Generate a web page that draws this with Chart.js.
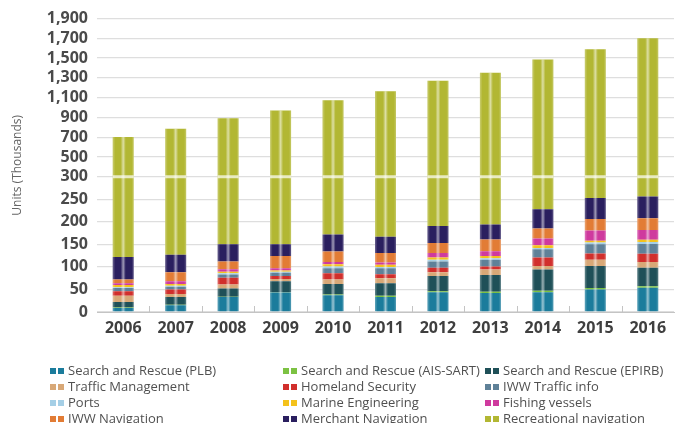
<!DOCTYPE html>
<html>
<head>
<meta charset="utf-8">
<script src="https://cdn.jsdelivr.net/npm/chart.js@4.4.1/dist/chart.umd.min.js"></script>
<style>
  html, body { margin: 0; padding: 0; background: #fff; overflow: hidden; }
  #wrap { position: relative; width: 675px; height: 423px; }
  #legend { position: absolute; left: 0; top: 0; width: 675px; height: 423px; pointer-events: none; }
  .item { position: absolute; height: 18px; line-height: 18px; white-space: nowrap;
          font-family: "Open Sans", sans-serif; font-size: 13px; color: #505050; }
  .sw { display: inline-block; width: 6px; height: 6px; margin-right: 2px; vertical-align: 1px; }
  .sw.last { margin-right: 4px; }
</style>
</head>
<body>
<div id="wrap">
  <canvas id="chart"></canvas>
  <div id="legend"></div>
</div>
<script>
// data (thousand units), bottom of the stack first
var years = ['2006', '2007', '2008', '2009', '2010', '2011', '2012', '2013', '2014', '2015', '2016'];

var sarPlb       = [9, 15, 33, 43, 37, 33, 44, 42, 44, 50, 54];
var sarAisSart   = [1, 1, 1, 1, 2, 3, 2, 3, 3, 3, 3];
var sarEpirb     = [12, 17, 18, 24, 23, 28, 34, 37, 47, 49, 41];
var trafficMgmt  = [14, 7, 9, 5, 10, 11, 8, 12, 8, 14, 13];
var homeland     = [10, 10, 15, 7, 14, 9, 10, 7, 19, 14, 18];
var iwwTraffic   = [7, 6, 7, 7, 11, 13, 14, 15, 18, 20, 22];
var ports        = [2, 2, 3, 2, 4, 3, 4, 3, 3, 4, 4];
var marineEng    = [5, 4, 3, 3, 5, 5, 5, 5, 6, 4, 5];
var fishing      = [4, 6, 6, 5, 5, 5, 10, 11, 15, 23, 22];
var iwwNav       = [8, 20, 17, 27, 23, 21, 22, 26, 22, 25, 26];
var merchantNav  = [50, 39, 38, 26, 38, 36, 38, 33, 43, 47, 48];
var recreational = [580, 658, 743, 820, 903, 998, 1080, 1159, 1258, 1338, 1444];

var seriesNames = ['Search and Rescue (PLB)', 'Search and Rescue (AIS-SART)', 'Search and Rescue (EPIRB)',
    'Traffic Management', 'Homeland Security', 'IWW Traffic info',
    'Ports', 'Marine Engineering', 'Fishing vessels',
    'IWW Navigation', 'Merchant Navigation', 'Recreational navigation'];
var seriesData = [sarPlb, sarAisSart, sarEpirb, trafficMgmt, homeland, iwwTraffic,
    ports, marineEng, fishing, iwwNav, merchantNav, recreational];
var seriesColors = ['#1b7c9c', '#7cc242', '#1f5058', '#d8a877', '#d12f2c', '#5f8198',
    '#a5cfe6', '#f4c21b', '#cf3a9e', '#e27c35', '#2a1f5f', '#b2b733'];

// y axis is broken at 300: 0-300 by 50, then 300-1900 by 200
var yTicks = [0, 50, 100, 150, 200, 250, 300, 500, 700, 900, 1100, 1300, 1500, 1700, 1900];
var yBreak = 300, yMax = 1900, breakShare = 0.461;

function toDecimal(v) {
    if (v <= yBreak) return v / yBreak * breakShare;
    return breakShare + (v - yBreak) / (yMax - yBreak) * (1 - breakShare);
}
function fromDecimal(d) {
    if (d <= breakShare) return d / breakShare * yBreak;
    return yBreak + (d - breakShare) / (1 - breakShare) * (yMax - yBreak);
}

class BrokenScale extends Chart.LinearScale {
    buildTicks() {
        return yTicks.map(function (v) { return { value: v }; });
    }
    getPixelForValue(value) {
        return this.getPixelForDecimal(toDecimal(value));
    }
    getValueForPixel(pixel) {
        return fromDecimal(this.getDecimalForPixel(pixel));
    }
}
BrokenScale.id = 'broken';
BrokenScale.defaults = Chart.LinearScale.defaults;
Chart.register(BrokenScale);

// shine stripe on the bars, gap at the break, little ticks on the baseline
var barDecor = {
    id: 'barDecor',
    afterDatasetsDraw: function (chart) {
        var ctx = chart.ctx;
        var xs = chart.scales.x, ys = chart.scales.y;
        var top = chart.getDatasetMeta(chart.data.datasets.length - 1);
        var base = ys.getPixelForValue(0);
        var yb = ys.getPixelForValue(yBreak);
        ctx.save();
        top.data.forEach(function (bar) {
            var left = bar.x - bar.width / 2;
            var g = ctx.createLinearGradient(left, 0, left + bar.width, 0);
            g.addColorStop(0, 'rgba(255,255,255,0.30)');
            g.addColorStop(0.12, 'rgba(255,255,255,0)');
            g.addColorStop(0.38, 'rgba(255,255,255,0)');
            g.addColorStop(0.5, 'rgba(255,255,255,0.55)');
            g.addColorStop(0.62, 'rgba(255,255,255,0)');
            g.addColorStop(0.9, 'rgba(255,255,255,0)');
            g.addColorStop(1, 'rgba(255,255,255,0.25)');
            ctx.fillStyle = g;
            ctx.fillRect(left, bar.y, bar.width, base - bar.y);
            ctx.fillStyle = 'rgba(255,255,255,0.7)';
            ctx.fillRect(left, yb - 1.5, bar.width, 3);
        });
        ctx.strokeStyle = '#c4c4c4';
        ctx.lineWidth = 1;
        for (var i = 0; i < years.length - 1; i++) {
            var xm = Math.round((xs.getPixelForValue(i) + xs.getPixelForValue(i + 1)) / 2) + 0.5;
            ctx.beginPath();
            ctx.moveTo(xm, base);
            ctx.lineTo(xm, base - 6);
            ctx.stroke();
        }
        ctx.restore();
    }
};

var datasets = [];
for (var i = 0; i < seriesNames.length; i++) {
    datasets.push({
        label: seriesNames[i],
        data: seriesData[i],
        backgroundColor: seriesColors[i],
        borderWidth: 0,
        categoryPercentage: 1,
        barPercentage: 0.4
    });
}

var tickFont = { family: 'Open Sans', size: 16, weight: 'bold' };

var chart = new Chart(document.getElementById('chart'), {
    type: 'bar',
    data: { labels: years, datasets: datasets },
    options: {
        responsive: true,
        maintainAspectRatio: false,
        animation: false,
        layout: { padding: { left: 0, right: 1, top: 12, bottom: 0 } },
        plugins: { legend: { display: false }, tooltip: { enabled: false } },
        scales: {
            x: {
                stacked: true,
                grid: { display: true, drawOnChartArea: false, drawTicks: false },
                border: { display: true, color: '#c4c4c4', width: 1 },
                ticks: { color: '#3f3f3f', font: tickFont, padding: 7 },
                afterFit: function (scale) { scale.height = 111; }
            },
            y: {
                type: 'broken',
                stacked: true,
                min: 0,
                max: yMax,
                grid: { color: '#dedede', lineWidth: 1.3, drawTicks: false },
                border: { display: false },
                ticks: {
                    autoSkip: false,
                    color: '#4a4a4a',
                    font: tickFont,
                    padding: 9,
                    callback: function (v) { return v.toLocaleString('en-US'); }
                },
                title: {
                    display: true,
                    text: 'Units (Thousands)',
                    color: '#666',
                    font: { family: 'Open Sans', size: 12 },
                    padding: { top: 10, bottom: 0 }
                },
                afterFit: function (scale) { scale.width = 97; }
            }
        }
    },
    plugins: [barDecor]
});

// legend: 3 columns, row by row
var legend = document.getElementById('legend');
var colX = [50, 283, 485];
var rowY = [370, 386, 402, 418];
seriesNames.forEach(function (name, k) {
    var item = document.createElement('div');
    item.className = 'item';
    item.style.left = colX[k % 3] + 'px';
    item.style.top = (rowY[Math.floor(k / 3)] - 9) + 'px';
    item.innerHTML = '<span class="sw" style="background:' + seriesColors[k] + '"></span>' +
        '<span class="sw last" style="background:' + seriesColors[k] + '"></span>';
    item.appendChild(document.createTextNode(name));
    legend.appendChild(item);
});
</script>
</body>
</html>
